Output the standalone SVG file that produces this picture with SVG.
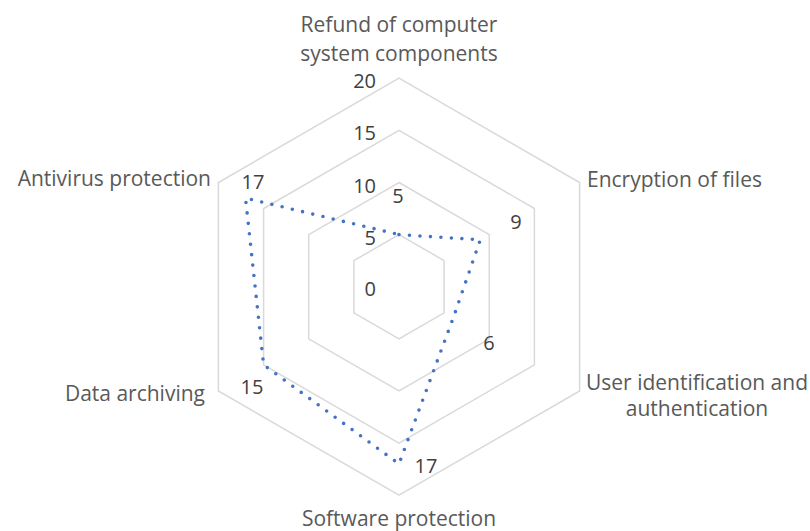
<svg xmlns="http://www.w3.org/2000/svg" width="810" height="531" viewBox="0 0 810 531">
<style>
.grid{fill:none;stroke:#D9D9D9;stroke-width:1.5}
.series{fill:none;stroke:#4472C4;stroke-width:3.6;stroke-dasharray:0 10.5;stroke-linecap:round;stroke-linejoin:round}
.cat{font-family:"Open Sans","Liberation Sans",Arial,sans-serif;font-size:21px;fill:#595959}
.val{font-family:"Open Sans","Liberation Sans",Arial,sans-serif;font-size:20px;fill:#404040}
</style>
<rect width="810" height="531" fill="#FFFFFF"/>
<g id="gridlines">
<polygon class="grid" points="399,234.6 444.1,260.6 444.1,312.8 399,338.8 353.9,312.8 353.9,260.6"/>
<polygon class="grid" points="399,182.5 489.3,234.6 489.3,338.8 399,391 308.7,338.8 308.7,234.6"/>
<polygon class="grid" points="399,130.3 534.4,208.5 534.4,364.9 399,443.1 263.6,364.9 263.6,208.5"/>
<polygon class="grid" points="399,78.2 579.6,182.5 579.6,391 399,495.2 218.4,391 218.4,182.5"/>
</g>
<g id="axis-labels" class="val" text-anchor="end">
<text x="376" y="296">0</text>
<text x="376" y="245">5</text>
<text x="376" y="193">10</text>
<text x="376" y="140">15</text>
<text x="376" y="88">20</text>
</g>
<g id="connectors">
<polygon class="series" points="399,234.6 480.3,239.8 453.2,318 399,463.9 263.6,364.9 245.5,198.1"/>
</g>
<g id="data-labels" class="val" text-anchor="middle">
<text x="398" y="203">5</text>
<text x="516" y="229">9</text>
<text x="489" y="350">6</text>
<text x="426" y="473">17</text>
<text x="252" y="394">15</text>
<text x="253" y="189">17</text>
</g>
<g id="cat-refund" class="cat" text-anchor="middle">
<text x="399" y="32">Refund of computer</text>
<text x="399" y="61">system components</text>
</g>
<g id="cat-encryption" class="cat">
<text x="587" y="187">Encryption of files</text>
</g>
<g id="cat-user" class="cat" text-anchor="middle">
<text x="697" y="390">User identification and</text>
<text x="697" y="416">authentication</text>
</g>
<g id="cat-software" class="cat" text-anchor="middle">
<text x="399" y="526">Software protection</text>
</g>
<g id="cat-archiving" class="cat" text-anchor="end">
<text x="205" y="401">Data archiving</text>
</g>
<g id="cat-antivirus" class="cat" text-anchor="end">
<text x="211" y="186">Antivirus protection</text>
</g>
</svg>
